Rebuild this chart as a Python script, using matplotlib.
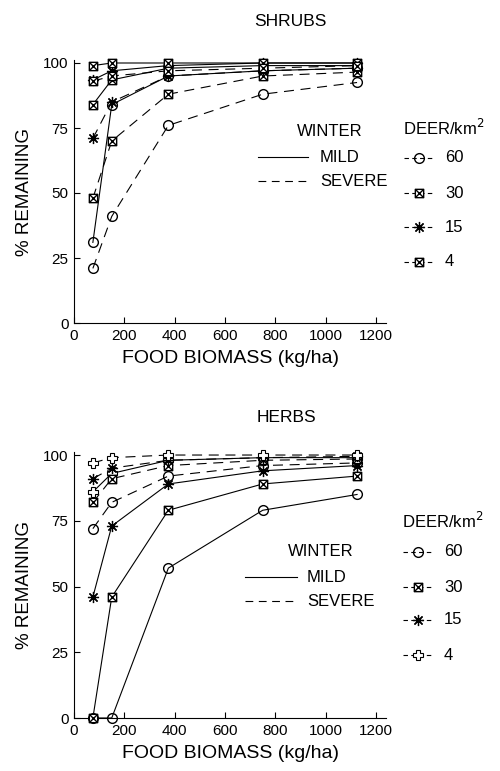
import matplotlib
matplotlib.use("Agg")
import matplotlib.pyplot as plt
from matplotlib.lines import Line2D
from matplotlib.path import Path

plt.rcParams['font.family'] = ['Liberation Sans', 'DejaVu Sans']

W, H = 500, 771

biomass = [75, 150, 375, 750, 1125]
deer_levels = ["60", "30", "15", "4"]

# SHRUBS, % remaining
shrubs_mild_60 = [31, 84, 95, 97, 98]
shrubs_mild_30 = [84, 93.5, 98, 99, 99]
shrubs_mild_15 = [93.5, 97, 99, 100, 100]
shrubs_mild_4 = [99, 100, 100, 100, 100]
shrubs_severe_60 = [21, 41, 76, 88, 92.5]
shrubs_severe_30 = [48, 70, 88, 95, 96.5]
shrubs_severe_15 = [71, 85, 95, 97, 98]
shrubs_severe_4 = [93, 95, 97, 98, 99]

# HERBS, % remaining
herbs_mild_60 = [0, 0, 57, 79, 85]
herbs_mild_30 = [0, 46, 79, 89, 92]
herbs_mild_15 = [46, 73, 89, 94, 96]
herbs_mild_4 = [86, 93, 98, 99, 99]
herbs_severe_60 = [72, 82, 92, 96, 97]
herbs_severe_30 = [82, 91, 96, 98, 98.5]
herbs_severe_15 = [91, 95, 98, 99, 99.5]
herbs_severe_4 = [97, 99, 100, 100, 100]

# markers
box_x = Path([(-1, -1), (1, -1), (1, 1), (-1, 1), (-1, -1), (-1, -1), (1, 1), (-1, 1), (1, -1)],
             [Path.MOVETO, Path.LINETO, Path.LINETO, Path.LINETO, Path.CLOSEPOLY,
              Path.MOVETO, Path.LINETO, Path.MOVETO, Path.LINETO])
circle = dict(marker='o', ms=7, mfc='none')
box = dict(marker=box_x, ms=6, mfc='white')
aster = dict(marker=(8, 2, 0), ms=8, mew=0.9)
plus = dict(marker='P', ms=7.5, mfc='white', mew=0.8)

DASH = (9, 6)


def fx(px):
    return px / W


def fy(py):
    return 1 - py / H


def draw_series(ax, data, styles, dashed):
    for vals, st in zip(data, styles):
        kw = dict(color='black', lw=0.8, clip_on=False, zorder=3)
        kw.update(st)
        line, = ax.plot(biomass, vals, **kw)
        if dashed:
            line.set_dashes(DASH)


def setup_axes(ax, title, title_x, title_y):
    ax.set_xlim(0, 1240)
    ax.set_ylim(0, 101)
    ax.set_xticks([0, 200, 400, 600, 800, 1000, 1200])
    ax.set_yticks([0, 25, 50, 75, 100])
    ax.spines['top'].set_visible(False)
    ax.spines['right'].set_visible(False)
    ax.tick_params(direction='in', length=4, width=0.8, labelsize=11, pad=4)
    ax.set_xlabel("FOOD BIOMASS (kg/ha)", fontsize=14, labelpad=5)
    ax.set_ylabel("% REMAINING", fontsize=13.5, labelpad=7)
    fig.text(fx(title_x), fy(title_y), title, ha='center', va='center', fontsize=12.5)


def draw_legend(styles, winter_y, winter_x, text_x, line_x0, line_x1, deer_y, deer_x, entry_ys):
    fig.text(fx(winter_x), fy(winter_y), "WINTER", ha='left', va='center', fontsize=12)
    fig.text(fx(text_x), fy(winter_y + 26), "MILD", ha='left', va='center', fontsize=12)
    fig.text(fx(text_x), fy(winter_y + 50), "SEVERE", ha='left', va='center', fontsize=12)
    fig.add_artist(Line2D([fx(line_x0), fx(line_x1)], [fy(winter_y + 26)] * 2,
                          transform=fig.transFigure, color='black', lw=0.8))
    ln = Line2D([fx(line_x0), fx(line_x1)], [fy(winter_y + 50)] * 2,
                transform=fig.transFigure, color='black', lw=0.8)
    ln.set_dashes((7, 5))
    fig.add_artist(ln)
    fig.text(fx(deer_x), fy(deer_y), "DEER/km$^2$", ha='left', va='center', fontsize=12)
    for lev, st, y in zip(deer_levels, styles, entry_ys):
        kw = dict(color='black', lw=0.8)
        kw.update(st)
        h = Line2D([fx(deer_x + 1), fx(deer_x + 16), fx(deer_x + 31)], [fy(y)] * 3,
                   transform=fig.transFigure, markevery=[1], **kw)
        h.set_dashes((4, 3))
        fig.add_artist(h)
        fig.text(fx(deer_x + 42), fy(y), lev, ha='left', va='center', fontsize=12)


fig = plt.figure(figsize=(W / 100, H / 100), dpi=100)

# top panel
ax1 = fig.add_axes([fx(74), fy(323), fx(386) - fx(74), fy(60.4) - fy(323)])
shrub_styles = [circle, box, aster, box]
draw_series(ax1, [shrubs_mild_60, shrubs_mild_30, shrubs_mild_15, shrubs_mild_4], shrub_styles, False)
draw_series(ax1, [shrubs_severe_60, shrubs_severe_30, shrubs_severe_15, shrubs_severe_4], shrub_styles, True)
setup_axes(ax1, "SHRUBS", 290, 22)
draw_legend(shrub_styles, 131, 297, 320, 258, 308, 128, 403, [158, 193, 227, 262])

# bottom panel
ax2 = fig.add_axes([fx(74), fy(718), fx(386) - fx(74), fy(452.4) - fy(718)])
herb_styles = [circle, box, aster, plus]
draw_series(ax2, [herbs_mild_60, herbs_mild_30, herbs_mild_15, herbs_mild_4], herb_styles, False)
draw_series(ax2, [herbs_severe_60, herbs_severe_30, herbs_severe_15, herbs_severe_4], herb_styles, True)
setup_axes(ax2, "HERBS", 286, 418)
draw_legend(herb_styles, 551, 288, 307, 245, 297, 521, 402, [552, 587, 620, 655])

fig.savefig("out.png", dpi=100)
